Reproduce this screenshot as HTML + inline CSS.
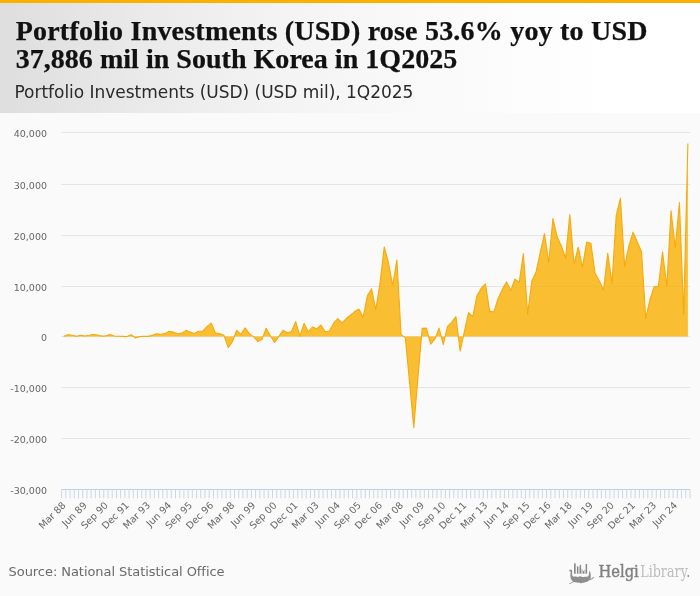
<!DOCTYPE html>
<html><head><meta charset="utf-8">
<style>
html,body{margin:0;padding:0;}
body{width:700px;height:596px;overflow:hidden;background:#fafafa;position:relative;font-family:"Liberation Sans",sans-serif;}
#top{position:absolute;left:0;top:0;width:700px;height:3px;background:#fab000;}
#head{position:absolute;left:0;top:3px;width:700px;height:110px;background:linear-gradient(to right,#dedede 0px,#eaeaea 145px,#f4f4f4 290px,#fafafa 440px,#ffffff 613px);}
#title{position:absolute;left:15.7px;top:17.2px;margin:0;font-family:"Liberation Serif",serif;font-weight:bold;font-size:28px;line-height:27.5px;color:#111;white-space:nowrap;-webkit-text-stroke:0.25px #111;}
#title .l1{letter-spacing:0.21px;}#title .l2{letter-spacing:0.03px;}
#sub{position:absolute;left:14.5px;letter-spacing:-0.03px;top:81.8px;margin:0;font-family:"DejaVu Sans","Liberation Sans",sans-serif;font-size:17px;line-height:20px;color:#2a2a2a;white-space:nowrap;font-weight:normal;}
#chart{position:absolute;left:0;top:113px;}
#src{position:absolute;left:8.6px;top:563.5px;font-family:"DejaVu Sans","Liberation Sans",sans-serif;font-size:13px;line-height:16px;color:#6a6a6a;letter-spacing:-0.06px;white-space:nowrap;}
#logo{position:absolute;left:560px;top:555px;}
</style></head><body>
<div id="head"></div><div id="top"></div>
<h1 id="title"><span class="l1">Portfolio Investments (USD) rose 53.6% yoy to USD</span><br><span class="l2">37,886 mil in South Korea in 1Q2025</span></h1>
<p id="sub">Portfolio Investments (USD) (USD mil), 1Q2025</p>
<svg id="chart" width="700" height="483" viewBox="0 113 700 483">
<path d="M61.6 132.5H690.0" stroke="#e4e4e4" stroke-width="1" fill="none"/>
<path d="M61.6 184.5H690.0" stroke="#e4e4e4" stroke-width="1" fill="none"/>
<path d="M61.6 235.5H690.0" stroke="#e4e4e4" stroke-width="1" fill="none"/>
<path d="M61.6 286.5H690.0" stroke="#e4e4e4" stroke-width="1" fill="none"/>
<path d="M61.6 336.5H690.0" stroke="#e4e4e4" stroke-width="1" fill="none"/>
<path d="M61.6 387.5H690.0" stroke="#e4e4e4" stroke-width="1" fill="none"/>
<path d="M61.6 438.5H690.0" stroke="#e4e4e4" stroke-width="1" fill="none"/>
<path d="M63.71 336.20 L67.93 334.67 L72.14 335.18 L76.36 336.20 L80.58 335.18 L84.80 335.95 L89.01 335.31 L93.23 334.54 L97.45 335.05 L101.67 336.08 L105.88 335.82 L110.10 334.54 L114.32 335.95 L118.54 336.20 L122.75 336.33 L126.97 336.59 L131.19 334.67 L135.41 338.02 L139.62 336.59 L143.84 336.20 L148.06 336.38 L152.28 335.36 L156.49 333.80 L160.71 334.19 L164.93 333.67 L169.14 331.22 L173.36 332.14 L177.58 333.80 L181.80 333.16 L186.01 330.35 L190.23 332.14 L194.45 333.42 L198.67 331.22 L202.88 331.22 L207.10 326.36 L211.32 323.14 L215.54 333.16 L219.75 333.67 L223.97 335.36 L228.19 347.58 L232.41 341.70 L236.62 330.20 L240.84 334.44 L245.06 327.89 L249.28 333.67 L253.49 336.64 L257.71 341.40 L261.93 339.61 L266.15 328.30 L270.36 335.72 L274.58 342.42 L278.80 336.64 L283.02 330.20 L287.23 332.75 L291.45 331.47 L295.67 321.60 L299.89 336.23 L304.10 323.39 L308.32 331.63 L312.54 327.00 L316.76 328.82 L320.97 324.98 L325.19 331.78 L329.41 330.96 L333.63 323.19 L337.84 318.54 L342.06 323.19 L346.28 318.54 L350.50 315.06 L354.71 311.58 L358.93 309.02 L363.15 317.41 L367.37 295.88 L371.58 288.77 L375.80 309.79 L380.02 282.99 L384.23 246.99 L388.45 262.69 L392.67 285.76 L396.89 259.93 L401.10 334.80 L405.32 337.61 L409.54 381.85 L413.76 427.62 L417.97 376.99 L422.19 328.41 L426.41 328.15 L430.63 344.11 L434.84 339.20 L439.06 328.15 L443.28 344.52 L447.50 326.36 L451.71 322.37 L455.93 316.59 L460.15 351.16 L464.37 331.68 L468.58 312.55 L472.80 316.54 L477.02 295.42 L481.24 288.36 L485.45 283.97 L489.67 311.12 L493.89 311.94 L498.11 298.44 L502.32 289.39 L506.54 281.92 L510.76 290.41 L514.98 279.06 L519.19 282.33 L523.41 253.64 L527.63 314.09 L531.85 281.00 L536.06 271.90 L540.28 252.41 L544.50 233.69 L548.72 262.79 L552.93 218.61 L557.15 236.81 L561.37 245.92 L565.59 258.14 L569.80 214.67 L574.02 264.12 L578.24 247.20 L582.46 267.24 L586.67 241.98 L590.89 243.31 L595.11 273.23 L599.32 281.00 L603.54 290.10 L607.76 253.18 L611.98 283.61 L616.19 216.00 L620.41 198.31 L624.63 266.73 L628.85 245.92 L633.06 232.11 L637.28 241.98 L641.50 251.70 L645.72 318.08 L649.93 299.77 L654.15 286.62 L658.37 286.52 L662.59 251.95 L666.80 286.52 L671.02 210.78 L675.24 247.76 L679.46 202.65 L683.67 314.70 L687.89 143.54 L687.89 336.5 L63.71 336.5 Z" fill="#f9af00" fill-opacity="0.8" stroke="none"/>
<path d="M63.71 336.20 L67.93 334.67 L72.14 335.18 L76.36 336.20 L80.58 335.18 L84.80 335.95 L89.01 335.31 L93.23 334.54 L97.45 335.05 L101.67 336.08 L105.88 335.82 L110.10 334.54 L114.32 335.95 L118.54 336.20 L122.75 336.33 L126.97 336.59 L131.19 334.67 L135.41 338.02 L139.62 336.59 L143.84 336.20 L148.06 336.38 L152.28 335.36 L156.49 333.80 L160.71 334.19 L164.93 333.67 L169.14 331.22 L173.36 332.14 L177.58 333.80 L181.80 333.16 L186.01 330.35 L190.23 332.14 L194.45 333.42 L198.67 331.22 L202.88 331.22 L207.10 326.36 L211.32 323.14 L215.54 333.16 L219.75 333.67 L223.97 335.36 L228.19 347.58 L232.41 341.70 L236.62 330.20 L240.84 334.44 L245.06 327.89 L249.28 333.67 L253.49 336.64 L257.71 341.40 L261.93 339.61 L266.15 328.30 L270.36 335.72 L274.58 342.42 L278.80 336.64 L283.02 330.20 L287.23 332.75 L291.45 331.47 L295.67 321.60 L299.89 336.23 L304.10 323.39 L308.32 331.63 L312.54 327.00 L316.76 328.82 L320.97 324.98 L325.19 331.78 L329.41 330.96 L333.63 323.19 L337.84 318.54 L342.06 323.19 L346.28 318.54 L350.50 315.06 L354.71 311.58 L358.93 309.02 L363.15 317.41 L367.37 295.88 L371.58 288.77 L375.80 309.79 L380.02 282.99 L384.23 246.99 L388.45 262.69 L392.67 285.76 L396.89 259.93 L401.10 334.80 L405.32 337.61 L409.54 381.85 L413.76 427.62 L417.97 376.99 L422.19 328.41 L426.41 328.15 L430.63 344.11 L434.84 339.20 L439.06 328.15 L443.28 344.52 L447.50 326.36 L451.71 322.37 L455.93 316.59 L460.15 351.16 L464.37 331.68 L468.58 312.55 L472.80 316.54 L477.02 295.42 L481.24 288.36 L485.45 283.97 L489.67 311.12 L493.89 311.94 L498.11 298.44 L502.32 289.39 L506.54 281.92 L510.76 290.41 L514.98 279.06 L519.19 282.33 L523.41 253.64 L527.63 314.09 L531.85 281.00 L536.06 271.90 L540.28 252.41 L544.50 233.69 L548.72 262.79 L552.93 218.61 L557.15 236.81 L561.37 245.92 L565.59 258.14 L569.80 214.67 L574.02 264.12 L578.24 247.20 L582.46 267.24 L586.67 241.98 L590.89 243.31 L595.11 273.23 L599.32 281.00 L603.54 290.10 L607.76 253.18 L611.98 283.61 L616.19 216.00 L620.41 198.31 L624.63 266.73 L628.85 245.92 L633.06 232.11 L637.28 241.98 L641.50 251.70 L645.72 318.08 L649.93 299.77 L654.15 286.62 L658.37 286.52 L662.59 251.95 L666.80 286.52 L671.02 210.78 L675.24 247.76 L679.46 202.65 L683.67 314.70 L687.89 143.54" fill="none" stroke="#f6aa0c" stroke-width="1.1" stroke-linejoin="round"/>
<path d="M61.6 489.5H690.0" stroke="#c0d0e0" stroke-width="1" fill="none"/>
<path d="M61.60 489.5v8.8M65.82 489.5v8.8M70.03 489.5v8.8M74.25 489.5v8.8M78.47 489.5v8.8M82.69 489.5v8.8M86.90 489.5v8.8M91.12 489.5v8.8M95.34 489.5v8.8M99.56 489.5v8.8M103.77 489.5v8.8M107.99 489.5v8.8M112.21 489.5v8.8M116.43 489.5v8.8M120.64 489.5v8.8M124.86 489.5v8.8M129.08 489.5v8.8M133.30 489.5v8.8M137.51 489.5v8.8M141.73 489.5v8.8M145.95 489.5v8.8M150.17 489.5v8.8M154.38 489.5v8.8M158.60 489.5v8.8M162.82 489.5v8.8M167.04 489.5v8.8M171.25 489.5v8.8M175.47 489.5v8.8M179.69 489.5v8.8M183.91 489.5v8.8M188.12 489.5v8.8M192.34 489.5v8.8M196.56 489.5v8.8M200.78 489.5v8.8M204.99 489.5v8.8M209.21 489.5v8.8M213.43 489.5v8.8M217.65 489.5v8.8M221.86 489.5v8.8M226.08 489.5v8.8M230.30 489.5v8.8M234.52 489.5v8.8M238.73 489.5v8.8M242.95 489.5v8.8M247.17 489.5v8.8M251.39 489.5v8.8M255.60 489.5v8.8M259.82 489.5v8.8M264.04 489.5v8.8M268.26 489.5v8.8M272.47 489.5v8.8M276.69 489.5v8.8M280.91 489.5v8.8M285.12 489.5v8.8M289.34 489.5v8.8M293.56 489.5v8.8M297.78 489.5v8.8M301.99 489.5v8.8M306.21 489.5v8.8M310.43 489.5v8.8M314.65 489.5v8.8M318.86 489.5v8.8M323.08 489.5v8.8M327.30 489.5v8.8M331.52 489.5v8.8M335.73 489.5v8.8M339.95 489.5v8.8M344.17 489.5v8.8M348.39 489.5v8.8M352.60 489.5v8.8M356.82 489.5v8.8M361.04 489.5v8.8M365.26 489.5v8.8M369.47 489.5v8.8M373.69 489.5v8.8M377.91 489.5v8.8M382.13 489.5v8.8M386.34 489.5v8.8M390.56 489.5v8.8M394.78 489.5v8.8M399.00 489.5v8.8M403.21 489.5v8.8M407.43 489.5v8.8M411.65 489.5v8.8M415.87 489.5v8.8M420.08 489.5v8.8M424.30 489.5v8.8M428.52 489.5v8.8M432.74 489.5v8.8M436.95 489.5v8.8M441.17 489.5v8.8M445.39 489.5v8.8M449.61 489.5v8.8M453.82 489.5v8.8M458.04 489.5v8.8M462.26 489.5v8.8M466.48 489.5v8.8M470.69 489.5v8.8M474.91 489.5v8.8M479.13 489.5v8.8M483.34 489.5v8.8M487.56 489.5v8.8M491.78 489.5v8.8M496.00 489.5v8.8M500.21 489.5v8.8M504.43 489.5v8.8M508.65 489.5v8.8M512.87 489.5v8.8M517.08 489.5v8.8M521.30 489.5v8.8M525.52 489.5v8.8M529.74 489.5v8.8M533.95 489.5v8.8M538.17 489.5v8.8M542.39 489.5v8.8M546.61 489.5v8.8M550.82 489.5v8.8M555.04 489.5v8.8M559.26 489.5v8.8M563.48 489.5v8.8M567.69 489.5v8.8M571.91 489.5v8.8M576.13 489.5v8.8M580.35 489.5v8.8M584.56 489.5v8.8M588.78 489.5v8.8M593.00 489.5v8.8M597.22 489.5v8.8M601.43 489.5v8.8M605.65 489.5v8.8M609.87 489.5v8.8M614.09 489.5v8.8M618.30 489.5v8.8M622.52 489.5v8.8M626.74 489.5v8.8M630.96 489.5v8.8M635.17 489.5v8.8M639.39 489.5v8.8M643.61 489.5v8.8M647.83 489.5v8.8M652.04 489.5v8.8M656.26 489.5v8.8M660.48 489.5v8.8M664.70 489.5v8.8M668.91 489.5v8.8M673.13 489.5v8.8M677.35 489.5v8.8M681.57 489.5v8.8M685.78 489.5v8.8M690.00 489.5v8.8" stroke="#c0d0e0" stroke-width="0.85" fill="none"/>
<g font-family="'DejaVu Sans', Verdana, sans-serif" font-size="9.5" fill="#666">
<text x="47" y="137.1" text-anchor="end">40,000</text>
<text x="47" y="189.1" text-anchor="end">30,000</text>
<text x="47" y="240.1" text-anchor="end">20,000</text>
<text x="47" y="291.1" text-anchor="end">10,000</text>
<text x="47" y="341.1" text-anchor="end">0</text>
<text x="47" y="392.1" text-anchor="end">-10,000</text>
<text x="47" y="443.1" text-anchor="end">-20,000</text>
<text x="47" y="494.1" text-anchor="end">-30,000</text>
<text x="66.41" y="505.8" font-size="9.65" text-anchor="end" transform="rotate(-45 66.41 505.8)">Mar 88</text>
<text x="87.50" y="505.8" font-size="9.65" text-anchor="end" transform="rotate(-45 87.50 505.8)">Jun 89</text>
<text x="108.58" y="505.8" font-size="9.65" text-anchor="end" transform="rotate(-45 108.58 505.8)">Sep 90</text>
<text x="129.67" y="505.8" font-size="9.65" text-anchor="end" transform="rotate(-45 129.67 505.8)">Dec 91</text>
<text x="150.76" y="505.8" font-size="9.65" text-anchor="end" transform="rotate(-45 150.76 505.8)">Mar 93</text>
<text x="171.84" y="505.8" font-size="9.65" text-anchor="end" transform="rotate(-45 171.84 505.8)">Jun 94</text>
<text x="192.93" y="505.8" font-size="9.65" text-anchor="end" transform="rotate(-45 192.93 505.8)">Sep 95</text>
<text x="214.02" y="505.8" font-size="9.65" text-anchor="end" transform="rotate(-45 214.02 505.8)">Dec 96</text>
<text x="235.11" y="505.8" font-size="9.65" text-anchor="end" transform="rotate(-45 235.11 505.8)">Mar 98</text>
<text x="256.19" y="505.8" font-size="9.65" text-anchor="end" transform="rotate(-45 256.19 505.8)">Jun 99</text>
<text x="277.28" y="505.8" font-size="9.65" text-anchor="end" transform="rotate(-45 277.28 505.8)">Sep 00</text>
<text x="298.37" y="505.8" font-size="9.65" text-anchor="end" transform="rotate(-45 298.37 505.8)">Dec 01</text>
<text x="319.46" y="505.8" font-size="9.65" text-anchor="end" transform="rotate(-45 319.46 505.8)">Mar 03</text>
<text x="340.54" y="505.8" font-size="9.65" text-anchor="end" transform="rotate(-45 340.54 505.8)">Jun 04</text>
<text x="361.63" y="505.8" font-size="9.65" text-anchor="end" transform="rotate(-45 361.63 505.8)">Sep 05</text>
<text x="382.72" y="505.8" font-size="9.65" text-anchor="end" transform="rotate(-45 382.72 505.8)">Dec 06</text>
<text x="403.80" y="505.8" font-size="9.65" text-anchor="end" transform="rotate(-45 403.80 505.8)">Mar 08</text>
<text x="424.89" y="505.8" font-size="9.65" text-anchor="end" transform="rotate(-45 424.89 505.8)">Jun 09</text>
<text x="445.98" y="505.8" font-size="9.65" text-anchor="end" transform="rotate(-45 445.98 505.8)">Sep 10</text>
<text x="467.07" y="505.8" font-size="9.65" text-anchor="end" transform="rotate(-45 467.07 505.8)">Dec 11</text>
<text x="488.15" y="505.8" font-size="9.65" text-anchor="end" transform="rotate(-45 488.15 505.8)">Mar 13</text>
<text x="509.24" y="505.8" font-size="9.65" text-anchor="end" transform="rotate(-45 509.24 505.8)">Jun 14</text>
<text x="530.33" y="505.8" font-size="9.65" text-anchor="end" transform="rotate(-45 530.33 505.8)">Sep 15</text>
<text x="551.42" y="505.8" font-size="9.65" text-anchor="end" transform="rotate(-45 551.42 505.8)">Dec 16</text>
<text x="572.50" y="505.8" font-size="9.65" text-anchor="end" transform="rotate(-45 572.50 505.8)">Mar 18</text>
<text x="593.59" y="505.8" font-size="9.65" text-anchor="end" transform="rotate(-45 593.59 505.8)">Jun 19</text>
<text x="614.68" y="505.8" font-size="9.65" text-anchor="end" transform="rotate(-45 614.68 505.8)">Sep 20</text>
<text x="635.76" y="505.8" font-size="9.65" text-anchor="end" transform="rotate(-45 635.76 505.8)">Dec 21</text>
<text x="656.85" y="505.8" font-size="9.65" text-anchor="end" transform="rotate(-45 656.85 505.8)">Mar 23</text>
<text x="677.94" y="505.8" font-size="9.65" text-anchor="end" transform="rotate(-45 677.94 505.8)">Jun 24</text>
</g>
</svg>
<div id="src">Source: National Statistical Office</div>
<svg id="logo" width="140" height="41" viewBox="0 0 140 41">
<g fill="#8a8a8a">
<rect x="14.0" y="8.4" width="1.7" height="10.3"/>
<rect x="16.9" y="11.3" width="1.4" height="7.4"/>
<rect x="18.3" y="12.2" width="1.4" height="6.5" fill="#c4c4c4"/>
<rect x="19.7" y="9.9" width="1.4" height="8.8"/>
<rect x="21.1" y="14.2" width="1.8" height="4.5" fill="#c4c4c4"/>
<rect x="22.9" y="15.9" width="1.2" height="2.8"/>
<rect x="24.1" y="14.8" width="1.5" height="3.9" fill="#c4c4c4"/>
<rect x="25.6" y="9.0" width="1.5" height="9.7"/>
<path d="M8.9 16.6C9.2 14.8 10.9 13.9 11.9 15.1C12.6 16.6 11.8 19.2 12.4 21C13.6 22.3 15.4 21.1 16.8 21.7C18.2 22.5 19.2 21.4 20.4 21.3C21.6 21.4 22.6 22.5 24 21.9C25.6 21.3 27 22.2 28.4 21.3C29.2 19.8 28.8 17.6 29.5 15.6C30.6 17.3 30.9 20.4 30.8 22.6C30.4 24.6 29.4 25.9 27.8 26.2C27 27.3 25.8 26.6 24.9 27.3C24 28.3 22.8 27.4 21.9 28.1C20.9 28.7 19.9 27.6 18.9 27.5C17.9 28.1 16.8 27.4 15.9 27.3C14.8 27.6 13.8 26.9 12.9 26.3C11.2 25.2 10.4 23 10.4 21C10.3 19.2 10.8 17.6 10.5 16.6C10.1 16.1 9.5 16.3 8.9 16.6Z" fill="#8e8e8e"/>
<path d="M9 28.7L14 25.8L14.4 26.5L9.4 29.3Z"/>
<path d="M29.9 24.5L33.9 21.7L34.3 22.4L30.4 25.2Z"/>
</g>
<text x="38.4" y="22" font-family="'DejaVu Serif','Liberation Serif',serif" font-size="17.3" fill="#808080" stroke="#808080" stroke-width="0.45" textLength="40.4" lengthAdjust="spacingAndGlyphs">Helgi</text>
<text x="80.2" y="22" font-family="'DejaVu Serif','Liberation Serif',serif" font-size="17.3" fill="#bcbcbc" textLength="50" lengthAdjust="spacingAndGlyphs">Library<tspan fill="#909090">.</tspan></text>
</svg>
</body></html>
